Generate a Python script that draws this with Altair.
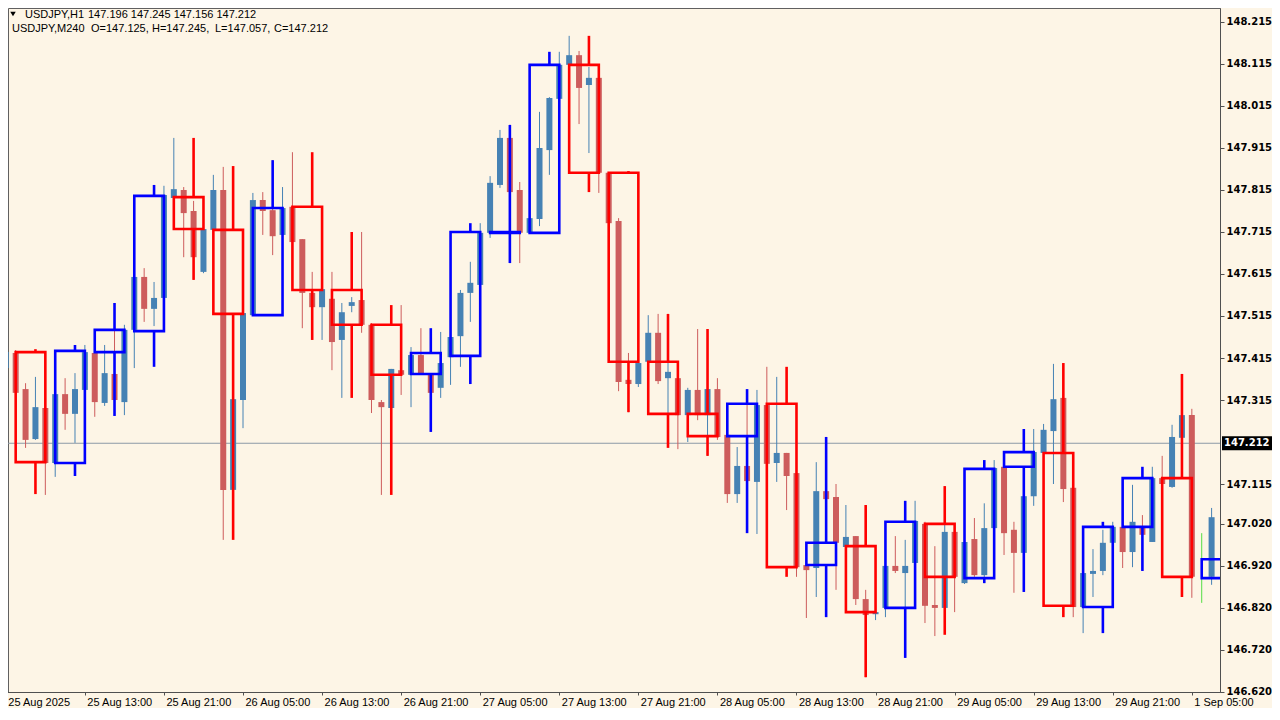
import json
import numpy as np
import pandas as pd
import altair as alt

# ---------------- H1 candles (index 0 = first visible bar, 25 Aug 05:00) ----------------
h1_open = [147.391, 147.427, 147.341, 147.222, 147.296, 147.165, 147.329, 147.282, 147.339, 147.427,
           147.308, 147.377, 147.310, 147.482, 147.608, 147.532, 147.558, 147.796, 147.815, 147.765,
           147.620, 147.720, 147.815, 147.101, 147.315, 147.517, 147.791, 147.767, 147.708, 147.775,
           147.698, 147.570, 147.536, 147.556, 147.458, 147.539, 147.553, 147.494, 147.310, 147.296,
           147.386, 147.375, 147.422, 147.375, 147.344, 147.417, 147.467, 147.570, 147.589, 147.713,
           147.827, 147.939, 147.815, 147.713, 147.746, 147.910, 148.032, 148.113, 148.136, 148.065,
           148.082, 147.856, 147.741, 147.363, 147.353, 147.406, 147.475, 147.367, 147.367, 147.279,
           147.339, 147.279, 147.341, 147.232, 147.091, 147.158, 147.120, 147.303, 147.165, 147.189,
           147.141, 146.922, 146.915, 147.098, 147.084, 146.965, 146.991, 146.841, 146.805, 146.820,
           146.920, 146.903, 146.927, 147.020, 146.827, 146.820, 147.001, 146.879, 146.984, 146.898,
           147.010, 147.156, 147.006, 146.951, 147.086, 147.189, 147.241, 147.320, 147.106, 146.822,
           146.901, 146.908, 146.975, 147.013, 146.953, 147.015, 146.977, 147.129, 147.108, 147.225,
           147.279, 146.891, 146.894]
h1_high = [147.432, 147.434, 147.355, 147.370, 147.298, 147.332, 147.367, 147.379, 147.446, 147.429,
           147.446, 147.546, 147.494, 147.608, 147.629, 147.596, 147.825, 147.939, 147.822, 147.789,
           147.725, 147.851, 147.870, 147.317, 147.522, 147.808, 147.810, 147.886, 147.822, 147.905,
           147.698, 147.620, 147.579, 147.620, 147.546, 147.560, 147.715, 147.498, 147.315, 147.389,
           147.541, 147.441, 147.486, 147.379, 147.477, 147.465, 147.577, 147.644, 147.736, 147.848,
           147.958, 147.970, 147.834, 147.748, 148.001, 148.036, 148.144, 148.182, 148.146, 148.108,
           148.082, 147.858, 147.748, 147.427, 147.403, 147.517, 147.520, 147.422, 147.367, 147.344,
           147.484, 147.341, 147.367, 147.232, 147.203, 147.327, 147.339, 147.394, 147.370, 147.189,
           147.141, 146.934, 147.167, 147.227, 147.115, 147.065, 146.991, 146.863, 146.815, 146.920,
           146.991, 146.982, 147.075, 147.025, 146.967, 147.110, 147.001, 146.982, 147.034, 147.069,
           147.172, 147.156, 147.025, 147.148, 147.246, 147.258, 147.401, 147.403, 147.106, 146.903,
           146.960, 147.006, 147.025, 147.013, 147.113, 147.041, 147.156, 147.182, 147.256, 147.377,
           147.294, 146.998, 147.058]
h1_low = [147.386, 147.327, 147.201, 147.220, 147.089, 147.132, 147.244, 147.213, 147.339, 147.275,
          147.301, 147.308, 147.279, 147.391, 147.501, 147.491, 147.558, 147.796, 147.655, 147.601,
          147.617, 147.720, 146.982, 147.089, 147.248, 147.517, 147.708, 147.660, 147.705, 147.691,
          147.486, 147.458, 147.458, 147.386, 147.320, 147.524, 147.475, 147.284, 147.089, 147.296,
          147.327, 147.298, 147.379, 147.239, 147.320, 147.351, 147.394, 147.501, 147.589, 147.701,
          147.820, 147.803, 147.641, 147.713, 147.729, 147.851, 148.029, 148.113, 147.972, 147.903,
          147.808, 147.736, 147.336, 147.286, 147.346, 147.406, 147.353, 147.284, 147.198, 147.215,
          147.267, 147.182, 147.220, 147.070, 147.070, 147.006, 146.996, 147.163, 147.120, 147.053,
          146.894, 146.796, 146.846, 147.053, 146.863, 146.965, 146.827, 146.655, 146.791, 146.798,
          146.903, 146.701, 146.920, 146.784, 146.753, 146.810, 146.810, 146.877, 146.894, 146.879,
          147.010, 146.946, 146.856, 146.858, 147.063, 147.184, 147.115, 147.072, 146.798, 146.760,
          146.846, 146.898, 146.975, 146.915, 146.917, 146.908, 146.977, 147.101, 147.106, 147.220,
          146.844, 146.832, 146.875]
h1_close = [147.429, 147.332, 147.220, 147.298, 147.165, 147.329, 147.282, 147.341, 147.429, 147.310,
            147.379, 147.315, 147.482, 147.608, 147.532, 147.558, 147.803, 147.817, 147.760, 147.655,
            147.722, 147.815, 147.101, 147.317, 147.522, 147.791, 147.765, 147.705, 147.772, 147.691,
            147.570, 147.536, 147.579, 147.453, 147.524, 147.548, 147.494, 147.315, 147.298, 147.389,
            147.375, 147.422, 147.379, 147.332, 147.403, 147.465, 147.570, 147.594, 147.713, 147.832,
            147.939, 147.810, 147.713, 147.748, 147.915, 148.034, 148.113, 148.136, 148.058, 148.082,
            147.856, 147.736, 147.358, 147.353, 147.403, 147.475, 147.360, 147.382, 147.279, 147.339,
            147.279, 147.341, 147.227, 147.091, 147.158, 147.122, 147.303, 147.163, 147.189, 147.134,
            146.917, 146.910, 147.098, 147.079, 146.975, 146.989, 146.841, 146.803, 146.810, 146.920,
            146.908, 146.920, 147.027, 146.825, 146.820, 147.001, 146.894, 146.977, 146.898, 147.010,
            147.153, 146.998, 146.951, 147.086, 147.191, 147.244, 147.317, 147.103, 146.822, 146.903,
            146.908, 146.975, 147.013, 146.953, 147.025, 146.994, 147.129, 147.115, 147.227, 147.279,
            146.894, 146.891, 147.036]

# ---------------- M240 boxes: index of the first H1 bar each box covers ----------------
h4_start = [-3, 1, 5, 9, 13, 17, 21, 25, 29, 33, 37, 41, 45, 49, 53, 57, 61, 65, 69, 73, 77, 81,
            85, 89, 93, 97, 101, 105, 109, 113, 117, 121]
h4_open = [147.053, 147.429, 147.165, 147.429, 147.479, 147.798, 147.720, 147.517, 147.775, 147.577,
           147.494, 147.377, 147.420, 147.713, 147.713, 148.113, 147.856, 147.406, 147.282, 147.229,
           147.306, 146.922, 146.967, 146.820, 147.020, 146.891, 147.156, 147.189, 146.822, 147.013,
           147.129, 146.891]
h4_high = [147.560, 147.436, 147.446, 147.546, 147.827, 147.939, 147.872, 147.886, 147.905, 147.715,
           147.541, 147.486, 147.736, 147.970, 148.144, 148.182, 147.860, 147.520, 147.484, 147.341,
           147.394, 147.227, 147.065, 147.075, 147.110, 147.172, 147.246, 147.403, 147.025, 147.156,
           147.377, 147.058]
h4_low = [147.000, 147.091, 147.134, 147.277, 147.394, 147.601, 146.982, 147.517, 147.458, 147.320,
          147.089, 147.239, 147.353, 147.641, 147.713, 147.810, 147.286, 147.201, 147.182, 146.998,
          146.894, 146.798, 146.655, 146.701, 146.756, 146.879, 146.858, 146.798, 146.760, 146.908,
          146.846, 146.832]
h4_close = [147.513, 147.167, 147.432, 147.482, 147.801, 147.722, 147.520, 147.772, 147.577, 147.494,
            147.375, 147.427, 147.715, 147.715, 148.113, 147.856, 147.406, 147.282, 147.229, 147.306,
            146.917, 146.975, 146.810, 147.025, 146.894, 147.151, 147.191, 146.825, 147.013, 147.129,
            146.894, 146.936]

# ---------------- axis texts ----------------
x_tick_index = [0, 8, 16, 24, 32, 40, 48, 56, 64, 72, 80, 88, 96, 104, 112, 120]
x_tick_labels = ["25 Aug 2025", "25 Aug 13:00", "25 Aug 21:00", "26 Aug 05:00", "26 Aug 13:00",
                 "26 Aug 21:00", "27 Aug 05:00", "27 Aug 13:00", "27 Aug 21:00", "28 Aug 05:00",
                 "28 Aug 13:00", "28 Aug 21:00", "29 Aug 05:00", "29 Aug 13:00", "29 Aug 21:00",
                 "1 Sep 05:00"]
y_tick_values = [148.215, 148.115, 148.015, 147.915, 147.815, 147.715, 147.615, 147.515, 147.415,
                 147.315, 147.115, 147.020, 146.920, 146.820, 146.720, 146.620]
current_price = 147.212
header_h1_name = "USDJPY,H1"
header_h1_values = "147.196 147.245 147.156 147.212"
header_h4_name = "USDJPY,M240"
header_h4_values = ["O=147.125,", "H=147.245,", "L=147.057,", "C=147.212"]

# ---------------- tables ----------------
W, H = 1212, 684
FONT = "Liberation Sans"
PFONT = "DejaVu Sans"
BG = "#FDF5E6"

h1 = pd.DataFrame({"i": np.arange(len(h1_open)), "open": h1_open, "high": h1_high,
                   "low": h1_low, "close": h1_close})
h1["dir"] = np.where(h1["close"] > h1["open"], "up",
                     np.where(h1["close"] < h1["open"], "down", "doji"))

h4 = pd.DataFrame({"start": h4_start, "open": h4_open, "high": h4_high,
                   "low": h4_low, "close": h4_close})
h4["end"] = h4["start"] + 3
h4["wx"] = h4["start"] + 2
h4["top"] = h4[["open", "close"]].max(axis=1)
h4["bot"] = h4[["open", "close"]].min(axis=1)
h4["dir"] = np.where(h4["close"] >= h4["open"], "up", "down")
wicks = pd.concat([
    pd.DataFrame({"wx": h4["wx"], "y": h4["top"], "y2": h4["high"], "dir": h4["dir"]}),
    pd.DataFrame({"wx": h4["wx"], "y": h4["bot"], "y2": h4["low"], "dir": h4["dir"]}),
], ignore_index=True)

# first bar sits just left of the plot's left edge, as in the reference
xs = alt.Scale(domain=[0, 122.85], range=[-2.2, W], nice=False, zero=False, padding=0)
ys = alt.Scale(domain=[146.6198, 148.2483], nice=False, zero=False, padding=0)

label_expr = f"{json.dumps(x_tick_labels)}[indexof({json.dumps(x_tick_index)}, datum.value)]"
x_axis = alt.Axis(values=x_tick_index, labelExpr=label_expr, title=None, grid=False,
                  orient="bottom", tickSize=3, labelAlign="left", labelOffset=2, labelPadding=1,
                  labelFlush=False, labelOverlap=False, labelFont=FONT, labelFontSize=11,
                  labelColor="#000000", domainColor="#505050", tickColor="#505050")
y_axis = alt.Axis(values=y_tick_values, format=".3f", title=None, grid=False, orient="right",
                  tickSize=4, labelPadding=2, labelFlush=False, labelOverlap=False,
                  labelFont=PFONT, labelFontSize=10, labelFontWeight="bold",
                  labelColor="#000000", domainColor="#505050", tickColor="#505050")

h1_color = alt.Color("dir:N", legend=None,
                     scale=alt.Scale(domain=["up", "down", "doji"],
                                     range=["#4682B4", "#CD5C5C", "#55DD44"]))
h4_color = alt.Color("dir:N", legend=None,
                     scale=alt.Scale(domain=["up", "down"], range=["#0000FF", "#FF0000"]))

one = pd.DataFrame({"k": [0]})

price_line = alt.Chart(one).mark_rule(color="#8C99A6", strokeWidth=1).encode(
    y=alt.Y(datum=current_price, type="quantitative", scale=ys, axis=y_axis))

h1_wicks = alt.Chart(h1).mark_rule(strokeWidth=1, clip=True).encode(
    x=alt.X("i:Q", scale=xs, axis=x_axis),
    y=alt.Y("low:Q", scale=ys, axis=y_axis), y2="high:Q", color=h1_color)

h1_bodies = alt.Chart(h1).transform_filter("datum.dir != 'doji'").mark_bar(
    size=6, clip=True).encode(
    x=alt.X("i:Q", scale=xs, axis=x_axis),
    y=alt.Y("open:Q", scale=ys, axis=y_axis), y2="close:Q", color=h1_color)

h4_boxes = alt.Chart(h4).mark_rect(filled=False, strokeWidth=2.6, clip=True).encode(
    x=alt.X("start:Q", scale=xs, axis=x_axis), x2="end:Q",
    y=alt.Y("top:Q", scale=ys, axis=y_axis), y2="bot:Q", color=h4_color)

h4_wicks = alt.Chart(wicks).mark_rule(strokeWidth=2.6, clip=True).encode(
    x=alt.X("wx:Q", scale=xs, axis=x_axis),
    y=alt.Y("y:Q", scale=ys, axis=y_axis), y2="y2:Q", color=h4_color)

price_box = alt.Chart(one).mark_rule(color="#000000", strokeWidth=14).encode(
    x=alt.value(W + 2), x2=alt.value(W + 52),
    y=alt.Y(datum=current_price, type="quantitative", scale=ys, axis=y_axis))
price_text = alt.Chart(one).mark_text(align="left", baseline="middle", color="#FFFFFF",
                                      font=PFONT, fontSize=10, fontWeight="bold").encode(
    x=alt.value(W + 4),
    y=alt.Y(datum=current_price, type="quantitative", scale=ys, axis=y_axis),
    text=alt.value(f"{current_price:.3f}"))

def label(txt, px, py, **kw):
    return alt.Chart(one).mark_text(align="left", baseline="middle", font=FONT, fontSize=11,
                                    color="#000000", **kw).encode(
        x=alt.value(px), y=alt.value(py), text=alt.value(txt))

marker = alt.Chart(one).mark_point(shape="triangle-down", filled=True, color="#000000",
                                   size=30, opacity=1).encode(x=alt.value(5), y=alt.value(6))

headers = [marker, label(header_h1_name, 17, 7), label(header_h1_values, 80, 7),
           label(header_h4_name, 4, 21)]
for txt, px in zip(header_h4_values, [83, 144, 207, 266]):
    headers.append(label(txt, px, 21))

chart = alt.layer(price_line, h1_wicks, h1_bodies, h4_boxes, h4_wicks, price_box, price_text,
                  *headers).resolve_scale(color="independent").properties(
    width=W, height=H, background=BG,
    padding={"left": 0, "top": 0, "right": 52, "bottom": 16},
    autosize=alt.AutoSizeParams(type="none"),
).configure_view(stroke="#606060", strokeWidth=1, fill=BG)

chart.save("out.html", embed_options={"renderer": "svg", "actions": False})
